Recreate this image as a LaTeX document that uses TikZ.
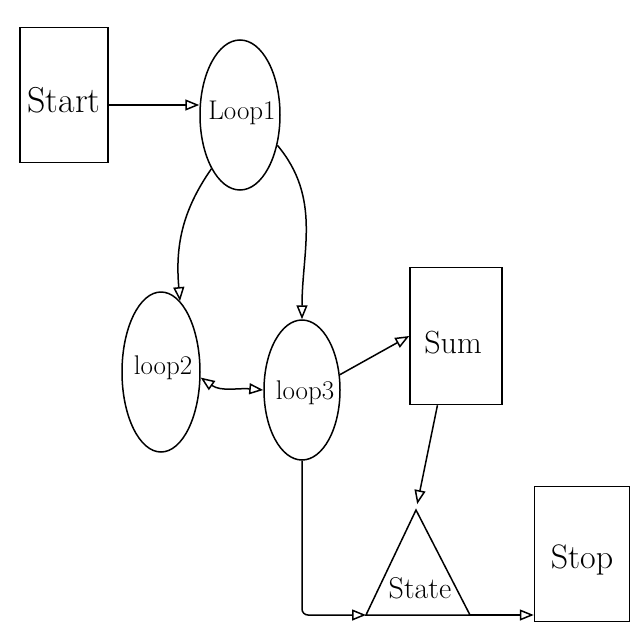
\documentclass[tikz,border=0pt]{standalone}
\usetikzlibrary{shapes.geometric,arrows.meta}
\begin{document}
\begin{tikzpicture}[x=1pt,y=-1pt,line width=1.5pt,
  lbl/.style={font=\fontsize{32}{34}\selectfont,inner sep=0pt},
  box/.style={draw,rectangle,inner sep=0pt},
  oval/.style={draw,ellipse,inner sep=0pt},
  arr/.style={-{Triangle[open,length=14pt,width=11pt]}},
  biarr/.style={{Triangle[open,length=14pt,width=11pt]}-{Triangle[open,length=14pt,width=11pt]}}]
\useasboundingbox (0,0) rectangle (640,640);
\node[box,minimum width=88pt,minimum height=135pt] (start) at (64,95) {};
\node[lbl,font=\fontsize{36}{38}\selectfont] (starttxt) at (64,100) {Start};
\node[oval,minimum width=80pt,minimum height=150pt] (loop1) at (240,115) {};
\node[lbl,font=\fontsize{27}{30}\selectfont] (loop1txt) at (242,113) {Loop1};
\node[oval,minimum width=78pt,minimum height=160pt] (loop2) at (161,372) {};
\node[lbl,font=\fontsize{27}{30}\selectfont] (loop2txt) at (163,368) {loop2};
\node[oval,minimum width=76pt,minimum height=140pt] (loop3) at (302,390) {};
\node[lbl,font=\fontsize{27}{30}\selectfont] (loop3txt) at (305,393) {loop3};
\node[box,minimum width=92pt,minimum height=137pt] (sum) at (456,336) {};
\node[lbl] (sumtxt) at (453,343) {Sum};
\node[box,minimum width=95pt,minimum height=135pt] (stop) at (582,554) {};
\node[lbl,font=\fontsize{34}{36}\selectfont] (stoptxt) at (582,560) {Stop};
\coordinate (stA) at (416,510);
\coordinate (stL) at (366,615);
\coordinate (stR) at (470,615);
\draw (stA) -- (stL) -- (stR) -- cycle;
\node[lbl,font=\fontsize{30}{32}\selectfont] (state) at (420,588) {State};
\draw[arr] (start.east |- 0,105) -- (loop1.west |- 0,105);
\draw[arr] (loop1.242) to[out=235,in=95] (loop2.75);
\draw[arr] (loop1.321) to[out=-50,in=90] (loop3.north);
\draw[biarr] (loop2.-8) to[out=-35,in=175] (loop3.west);
\draw[arr] (loop3.22) -- (sum.west);
\draw[arr,shorten >=6pt] (sum.255) -- (stA);
\draw[arr,rounded corners=6pt] (loop3.south) |- (stL);
\draw[arr] (stR) -- (stR -| stop.west);
\end{tikzpicture}
\end{document}
